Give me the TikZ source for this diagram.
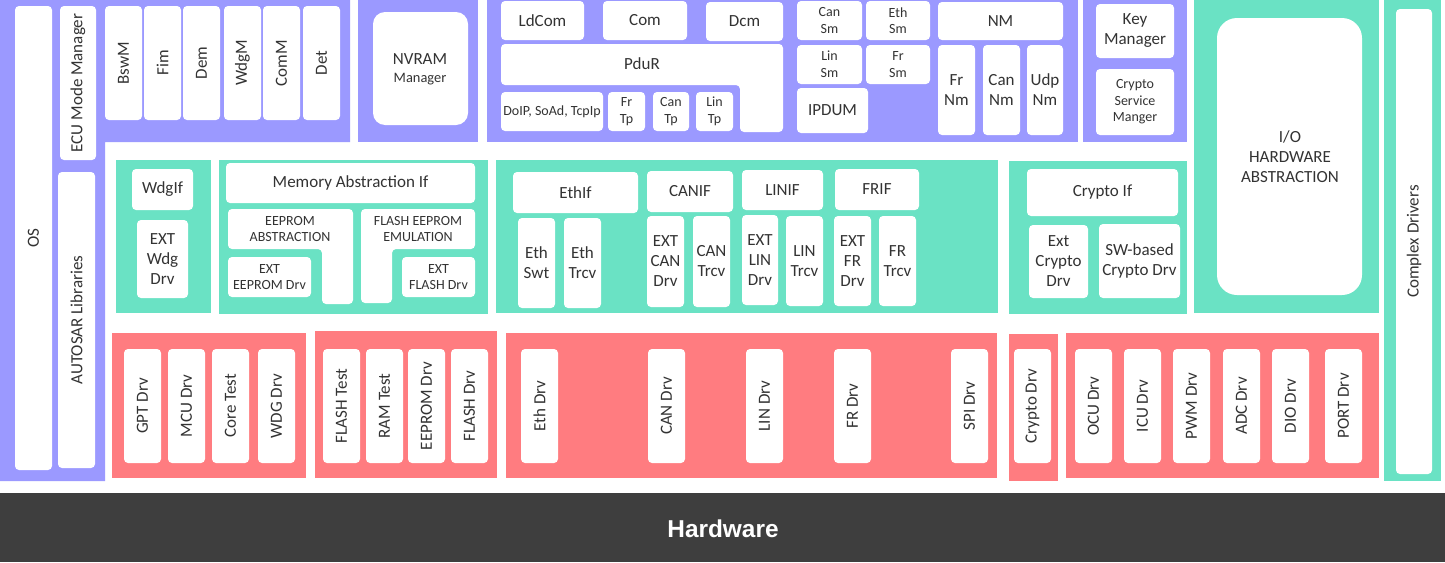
\documentclass[tikz,border=0pt]{standalone}
\usepackage{fontspec}
\setmainfont{Carlito}
\newfontfamily\hwfont{Liberation Sans}
\usepackage{tikz}
\usetikzlibrary{positioning}

\definecolor{svcpurple}{HTML}{9B99FF}
\definecolor{ecugreen}{HTML}{6AE2C4}
\definecolor{mcalred}{HTML}{FF7C80}
\definecolor{hwgrey}{HTML}{3E3E3E}
\definecolor{txtgrey}{HTML}{333333}

\tikzset{
  wbox/.style={fill=white,rounded corners=2pt},
  lbl/.style={text=txtgrey,font=\fontsize{8.5}{10}\selectfont,align=center,inner sep=0pt},
  sml/.style={lbl,font=\fontsize{7}{8.3}\selectfont},
  vlbl/.style={lbl,rotate=90}
}

\newcommand{\wb}[7][lbl]{%
  \fill[wbox] (#3,#4) rectangle (#5,#6);
  \node[#1] (#2) at ({(#3+#5)/2},{(#4+#6)/2}) {#7};}

\begin{document}
\begin{tikzpicture}[x=0.5pt,y=-0.5pt]
\useasboundingbox (0,0) rectangle (1445,562);

\fill[svcpurple] (0,0) -- (350,0) -- (350,142) -- (105,142) -- (105,481) -- (0,481) -- cycle;
\fill[svcpurple] (358,0) rectangle (478,142);
\fill[svcpurple] (487,0) rectangle (1078,142);
\fill[svcpurple] (1083,0) rectangle (1187,142);

\fill[ecugreen] (116,160) rectangle (211,313);
\fill[ecugreen] (219,160) rectangle (488,314);
\fill[ecugreen] (496,160) rectangle (998,313);
\fill[ecugreen] (1009,161) rectangle (1187,314);
\fill[ecugreen] (1194,0) rectangle (1379,313);
\fill[ecugreen] (1384,0) rectangle (1441,481);

\fill[mcalred] (112,333) rectangle (306,478);
\fill[mcalred] (315,331) rectangle (497,478);
\fill[mcalred] (506,333) rectangle (997,478);
\fill[mcalred] (1009,334) rectangle (1058,481);
\fill[mcalred] (1066,333) rectangle (1379,478);

\fill[hwgrey] (0,493) rectangle (1445,562);
\node[font=\hwfont\bfseries\fontsize{12.2}{14}\selectfont,text=white] (hw) at (723,529) {Hardware};

\wb[vlbl]{os}{15}{6}{52}{470}{OS}
\wb[vlbl]{ecum}{60}{6}{96}{160}{ECU Mode Manager}
\wb[vlbl]{libs}{58}{172}{95}{468}{AUTOSAR Libraries}
\foreach \x/\t [count=\i] in {105/BswM,144/Fim,183/Dem,224/WdgM,263/ComM,303/Det} {
  \wb[vlbl]{svc\i}{\x}{6}{\x+37}{120}{\t}
}

\fill[wbox,rounded corners=6pt] (373,12) rectangle (468,125);
\node[lbl] (nvm) at (420,69) {NVRAM\\[-1pt]{\fontsize{7.2}{9}\selectfont Manager}};

\wb{ldcom}{501}{1}{584}{40}{LdCom}
\wb{com}{603}{1}{687}{40}{Com}
\wb{dcm}{706}{2}{783}{41}{Dcm}
\fill[wbox] (501,44) -- (783,44) -- (783,132) -- (740,132) -- (740,85) -- (501,85) -- cycle;
\node[lbl] (pdur) at (642,64) {PduR};
\wb[sml]{soad}{501}{92}{603}{131}{DoIP, SoAd, TcpIp}
\wb[sml]{frtp}{608}{92}{645}{131}{Fr\\Tp}
\wb[sml]{cantp}{653}{92}{689}{131}{Can\\Tp}
\wb[sml]{lintp}{696}{92}{733}{131}{Lin\\Tp}

\wb[sml]{cansm}{797}{1}{862}{40}{Can\\Sm}
\wb[sml]{ethsm}{866}{1}{930}{40}{Eth\\Sm}
\wb[sml]{linsm}{797}{45}{862}{84}{Lin\\Sm}
\wb[sml]{frsm}{866}{45}{930}{84}{Fr\\Sm}
\wb{ipdum}{797}{88}{868}{133}{IPDUM}
\wb{nm}{938}{2}{1063}{40}{NM}
\wb{frnm}{938}{45}{975}{135}{Fr\\Nm}
\wb{cannm}{983}{45}{1020}{135}{Can\\Nm}
\wb{udpnm}{1027}{45}{1063}{135}{Udp\\Nm}

\wb{keym}{1096}{4}{1174}{58}{Key\\Manager}
\wb[sml]{csm}{1096}{69}{1174}{135}{Crypto\\Service\\Manger}

\fill[wbox,rounded corners=10pt] (1217,18) rectangle (1362,295);
\node[lbl] (iohwab) at (1290,157) {I/O\\HARDWARE\\ABSTRACTION};
\wb[vlbl]{cdd}{1396}{9}{1432}{474}{Complex Drivers}

\wb{wdgif}{132}{169}{193}{210}{WdgIf}
\wb{extwdg}{137}{220}{188}{298}{EXT\\Wdg\\Drv}

\wb{memif}{226}{163}{475}{203}{Memory Abstraction If}
\fill[wbox] (228,209) -- (353,209) -- (353,304) -- (322,304) -- (322,249) -- (228,249) -- cycle;
\node[sml] (ea) at (290,229) {EEPROM\\ABSTRACTION};
\fill[wbox] (361,209) -- (475,209) -- (475,249) -- (392,249) -- (392,303) -- (361,303) -- cycle;
\node[sml] (fee) at (418,229) {FLASH EEPROM\\EMULATION};
\wb[sml]{exteep}{228}{257}{311}{297}{EXT\\EEPROM Drv}
\wb[sml]{extfls}{402}{257}{475}{297}{EXT\\FLASH Drv}

\wb{ethif}{513}{172}{638}{213}{EthIf}
\wb{canif}{647}{171}{733}{212}{CANIF}
\wb{linif}{742}{170}{823}{210}{LINIF}
\wb{frif}{835}{169}{919}{210}{FRIF}
\wb{ethswt}{518}{218}{555}{308}{Eth\\Swt}
\wb{ethtrcv}{564}{218}{601}{308}{Eth\\Trcv}
\wb{extcan}{647}{216}{684}{307}{EXT\\CAN\\Drv}
\wb{cantrcv}{693}{216}{730}{307}{CAN\\Trcv}
\wb{extlin}{742}{215}{778}{305}{EXT\\LIN\\Drv}
\wb{lintrcv}{786}{216}{823}{306}{LIN\\Trcv}
\wb{extfr}{834}{216}{871}{306}{EXT\\FR\\Drv}
\wb{frtrcv}{879}{216}{916}{306}{FR\\Trcv}

\wb{cryif}{1027}{169}{1178}{216}{Crypto If}
\wb{extcry}{1029}{225}{1088}{298}{Ext\\Crypto\\Drv}
\wb{swcry}{1099}{224}{1180}{298}{SW-based\\Crypto Drv}

\foreach \x/\t [count=\i] in {124/GPT Drv,168/MCU Drv,212/Core Test,258/WDG Drv} {
  \wb[vlbl]{mcu\i}{\x}{349}{\x+37}{463}{\t}
}
\foreach \x/\t [count=\i] in {323/FLASH Test,366/RAM Test,408/EEPROM Drv,451/FLASH Drv} {
  \wb[vlbl]{mem\i}{\x}{349}{\x+37}{463}{\t}
}
\foreach \x/\t [count=\i] in {521/Eth Drv,648/CAN Drv,746/LIN Drv,834/FR Drv,951/SPI Drv} {
  \wb[vlbl]{comdrv\i}{\x}{349}{\x+37}{463}{\t}
}
\wb[vlbl]{crydrv}{1014}{349}{1051}{463}{Crypto Drv}
\foreach \x/\t [count=\i] in {1075/OCU Drv,1124/ICU Drv,1173/PWM Drv,1223/ADC Drv,1272/DIO Drv,1325/PORT Drv} {
  \wb[vlbl]{iodrv\i}{\x}{349}{\x+37}{463}{\t}
}
\end{tikzpicture}
\end{document}
